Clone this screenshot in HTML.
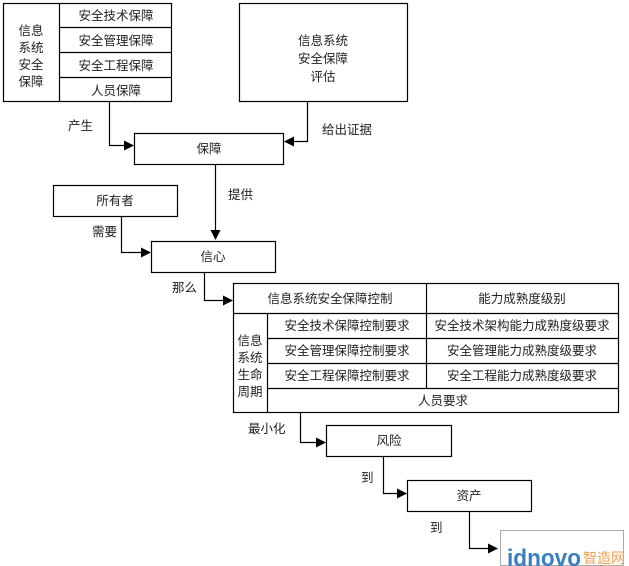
<!DOCTYPE html>
<html><head><meta charset="utf-8"><style>
html,body{margin:0;padding:0;background:#fff;width:629px;height:566px;overflow:hidden}
svg text{font-family:"Liberation Sans","Noto Sans CJK SC",sans-serif;font-size:12.5px;fill:#222}
</style></head><body>
<svg width="629" height="566" viewBox="0 0 629 566" xmlns="http://www.w3.org/2000/svg">
<defs><marker id="a" markerWidth="10" markerHeight="10" refX="9" refY="5" orient="auto" markerUnits="userSpaceOnUse"><path d="M0,0 L10,5 L0,10 z" fill="#000"/></marker></defs>
<g fill="none" stroke="#000" stroke-width="1.2">
<rect x="3.5" y="3.5" width="168" height="98"/>
<line x1="59.5" y1="3.5" x2="59.5" y2="101.5"/>
<line x1="59.5" y1="27.5" x2="171.5" y2="27.5"/>
<line x1="59.5" y1="52.5" x2="171.5" y2="52.5"/>
<line x1="59.5" y1="77.5" x2="171.5" y2="77.5"/>
<rect x="239.5" y="3.5" width="168" height="98"/>
<rect x="134.5" y="133.5" width="149" height="31"/>
<rect x="53.5" y="185.5" width="124" height="31"/>
<rect x="151.5" y="241.5" width="124" height="31"/>
<rect x="233.5" y="283.5" width="385" height="129"/>
<line x1="233.5" y1="313.5" x2="618.5" y2="313.5"/>
<line x1="426.5" y1="283.5" x2="426.5" y2="388.5"/>
<line x1="267.5" y1="313.5" x2="267.5" y2="412.5"/>
<line x1="267.5" y1="338.5" x2="618.5" y2="338.5"/>
<line x1="267.5" y1="363.5" x2="618.5" y2="363.5"/>
<line x1="267.5" y1="388.5" x2="618.5" y2="388.5"/>
<rect x="326.5" y="425.5" width="125" height="31"/>
<rect x="407.5" y="480.5" width="124" height="31"/>
<polyline points="109.5,102 109.5,145.5 133,145.5" marker-end="url(#a)"/>
<polyline points="307.5,102 307.5,141.5 285,141.5" marker-end="url(#a)"/>
<polyline points="215.5,165 215.5,239" marker-end="url(#a)"/>
<polyline points="121.5,217 121.5,252.5 150,252.5" marker-end="url(#a)"/>
<polyline points="204.5,273 204.5,300.5 232,300.5" marker-end="url(#a)"/>
<polyline points="300.5,413 300.5,442.5 325,442.5" marker-end="url(#a)"/>
<polyline points="383.5,457 383.5,493.5 406,493.5" marker-end="url(#a)"/>
<polyline points="469.5,512 469.5,548.5 497,548.5" marker-end="url(#a)"/>
</g>
<rect x="500.5" y="530.5" width="123" height="35" fill="none" stroke="#aaa"/>
<g text-anchor="middle">
<text x="31" y="35">信息</text><text x="31" y="52">系统</text><text x="31" y="69">安全</text><text x="31" y="86">保障</text>
<text x="116" y="20">安全技术保障</text><text x="116" y="45">安全管理保障</text><text x="116" y="70">安全工程保障</text><text x="116" y="95">人员保障</text>
<text x="323" y="45">信息系统</text><text x="323" y="63">安全保障</text><text x="323" y="81">评估</text>
<text x="209" y="153">保障</text>
<text x="115" y="205">所有者</text>
<text x="213" y="261">信心</text>
<text x="330" y="303">信息系统安全保障控制</text>
<text x="522" y="303">能力成熟度级别</text>
<text x="250" y="345">信息</text><text x="250" y="362">系统</text><text x="250" y="379">生命</text><text x="250" y="396">周期</text>
<text x="347" y="330">安全技术保障控制要求</text><text x="347" y="355">安全管理保障控制要求</text><text x="347" y="380">安全工程保障控制要求</text>
<text x="522" y="330">安全技术架构能力成熟度级要求</text><text x="522" y="355">安全管理能力成熟度级要求</text><text x="522" y="380">安全工程能力成熟度级要求</text>
<text x="443" y="405">人员要求</text>
<text x="389" y="445">风险</text>
<text x="469" y="500">资产</text>
</g>
<text x="68" y="130">产生</text>
<text x="322" y="134">给出证据</text>
<text x="228" y="199">提供</text>
<text x="92" y="236">需要</text>
<text x="172" y="292">那么</text>
<text x="248" y="433">最小化</text>
<text x="361" y="482">到</text>
<text x="430" y="532">到</text>
<text x="507" y="566" textLength="74" lengthAdjust="spacingAndGlyphs" style="font-size:24px;font-weight:bold;fill:#3a7fc0">idnovo</text>
<text x="583" y="563" style="font-size:14px;fill:#f0a050">智造网</text>
</svg>
</body></html>
